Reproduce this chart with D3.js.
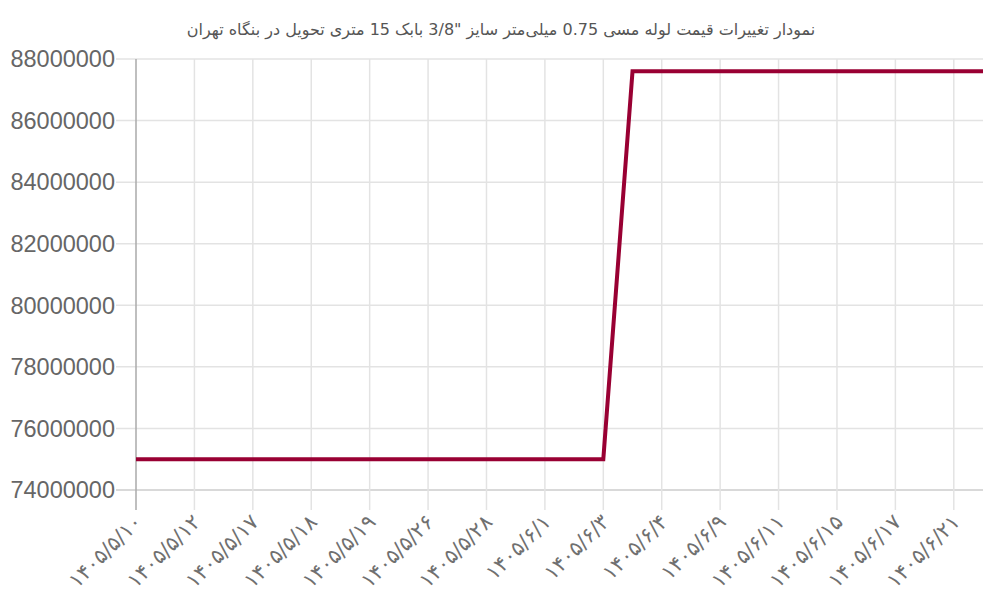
<!DOCTYPE html>
<html>
<head>
<meta charset="utf-8">
<script src="https://cdn.jsdelivr.net/npm/d3@7"></script>
<style>
  body { margin: 0; background: #fff; }
  svg { display: block; }
</style>
</head>
<body>
<div id="chart"></div>
<script>
var title = 'نمودار تغییرات قیمت لوله مسی 0.75 میلی‌متر سایز "3/8 بابک 15 متری تحویل در بنگاه تهران';

// one label is shown for every second point
var tickLabels = ["۱۴۰۵/۵/۱۰", "۱۴۰۵/۵/۱۲", "۱۴۰۵/۵/۱۷", "۱۴۰۵/۵/۱۸", "۱۴۰۵/۵/۱۹",
  "۱۴۰۵/۵/۲۶", "۱۴۰۵/۵/۲۸", "۱۴۰۵/۶/۱", "۱۴۰۵/۶/۳", "۱۴۰۵/۶/۴",
  "۱۴۰۵/۶/۹", "۱۴۰۵/۶/۱۱", "۱۴۰۵/۶/۱۵", "۱۴۰۵/۶/۱۷", "۱۴۰۵/۶/۲۱"];
var labelStep = 2;

var prices = [75000000, 75000000, 75000000, 75000000, 75000000, 75000000,
  75000000, 75000000, 75000000, 75000000, 75000000, 75000000, 75000000,
  75000000, 75000000, 75000000, 75000000,
  87600000, 87600000, 87600000, 87600000, 87600000, 87600000, 87600000,
  87600000, 87600000, 87600000, 87600000, 87600000, 87600000];

var yTicks = [74000000, 76000000, 78000000, 80000000, 82000000, 84000000, 86000000, 88000000];

var W = 1000, H = 600;
var margin = {top: 59, right: 17, bottom: 110, left: 136};

var svg = d3.select("#chart").append("svg").attr("width", W).attr("height", H);

var x = d3.scaleLinear().domain([0, prices.length - 1]).range([margin.left, W - margin.right]);
var y = d3.scaleLinear().domain([74000000, 88000000]).range([H - margin.bottom, margin.top]);

svg.append("text")
  .attr("x", 501).attr("y", 35)
  .attr("text-anchor", "middle")
  .attr("direction", "rtl")
  .style("font-family", "DejaVu Sans, sans-serif")
  .style("font-size", "16px")
  .attr("fill", "#555")
  .text(title);

// horizontal grid + y labels
svg.append("g").selectAll("line").data(yTicks).enter().append("line")
  .attr("x1", margin.left - 20).attr("x2", W - margin.right)
  .attr("y1", function(d) { return y(d); }).attr("y2", function(d) { return y(d); })
  .attr("stroke", function(d, i) { return i == 0 ? "#ccc" : "#e3e3e3"; })
  .attr("stroke-width", 1.5);

svg.append("g").selectAll("text").data(yTicks).enter().append("text")
  .attr("x", margin.left - 21).attr("y", function(d) { return y(d); })
  .attr("dy", "0.35em")
  .attr("text-anchor", "end")
  .style("font-family", "Liberation Sans, Arial, sans-serif")
  .style("font-size", "23.5px")
  .attr("fill", "#666")
  .text(function(d) { return d3.format("d")(d); });

// vertical grid at labelled points
var tickIdx = tickLabels.map(function(d, i) { return i * labelStep; });

svg.append("g").selectAll("line").data(tickIdx.slice(1)).enter().append("line")
  .attr("x1", function(d) { return x(d); }).attr("x2", function(d) { return x(d); })
  .attr("y1", margin.top).attr("y2", H - margin.bottom + 20)
  .attr("stroke", "#e3e3e3").attr("stroke-width", 1.5);

svg.append("line")
  .attr("x1", margin.left).attr("x2", margin.left)
  .attr("y1", margin.top).attr("y2", H - margin.bottom + 20)
  .attr("stroke", "#aaa").attr("stroke-width", 1.5);

svg.append("g").selectAll("text").data(tickLabels).enter().append("text")
  .attr("transform", function(d, i) { return "translate(" + (x(i * labelStep) + 2) + "," + (H - margin.bottom + 28) + ") rotate(-45)"; })
  .attr("text-anchor", "end")
  .attr("dy", "0.35em")
  .style("font-family", "DejaVu Sans, sans-serif")
  .style("font-size", "21px")
  .attr("fill", "#707070")
  .text(function(d) { return d; });

var line = d3.line()
  .x(function(d, i) { return x(i); })
  .y(function(d) { return y(d); });

svg.append("path")
  .datum(prices)
  .attr("d", line)
  .attr("fill", "none")
  .attr("stroke", "#990033")
  .attr("stroke-width", 4);
</script>
</body>
</html>
